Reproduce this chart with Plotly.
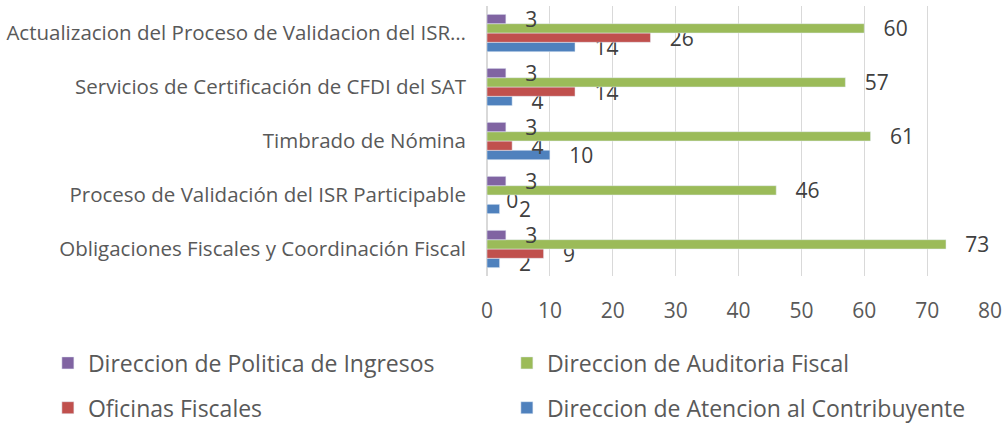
import plotly.graph_objects as go

categories = [
    "Obligaciones Fiscales y Coordinación Fiscal",
    "Proceso de Validación del ISR Participable",
    "Timbrado de Nómina",
    "Servicios de Certificación de CFDI del SAT",
    "Actualizacion del Proceso de Validacion del ISR…",
]
atencion = [2, 2, 10, 4, 14]
oficinas = [9, 0, 4, 14, 26]
auditoria = [73, 46, 61, 57, 60]
politica = [3, 3, 3, 3, 3]

series = [
    ("Direccion de Atencion al Contribuyente", atencion, "#4F81BD", "legend2"),
    ("Oficinas Fiscales", oficinas, "#C0504D", "legend2"),
    ("Direccion de Auditoria Fiscal", auditoria, "#9BBB59", "legend"),
    ("Direccion de Politica de Ingresos", politica, "#8064A2", "legend"),
]

FONT = "Open Sans"
FS = 20.5
fig = go.Figure()
for name, vals, color, lg in series:
    fig.add_trace(go.Bar(
        y=categories, x=vals, name=name, orientation="h",
        marker=dict(color=color),
        texttemplate="\u00a0\u00a0\u00a0%{x}", textposition="outside",
        constraintext="none",
        textfont=dict(family=FONT, size=21, color="#404040"),
        cliponaxis=False, legend=lg,
    ))

leg_common = dict(orientation="h", xanchor="left", yanchor="middle",
                  traceorder="reversed", entrywidth=414, entrywidthmode="pixels",
                  font=dict(family=FONT, size=23, color="#595959"),
                  bgcolor="rgba(0,0,0,0)", borderwidth=0)

fig.update_layout(
    width=1007, height=425,
    margin=dict(l=487, r=17, t=6, b=149, autoexpand=False),
    barmode="group", bargap=0.31, bargroupgap=0,
    plot_bgcolor="white", paper_bgcolor="white",
    font=dict(family=FONT, size=FS, color="#595959"),
    xaxis=dict(range=[0, 80], dtick=10, showgrid=True, gridcolor="#d9d9d9",
               gridwidth=1, zeroline=True, zerolinecolor="#d9d9d9",
               tickfont=dict(size=21, color="#595959"), ticks="",
               ticklabelstandoff=20),
    yaxis=dict(showgrid=False, ticks="", tickfont=dict(size=FS, color="#595959"),
               ticklabelstandoff=20),
    showlegend=True,
    legend=dict(x=-0.873, y=-0.322, **leg_common),
    legend2=dict(x=-0.873, y=-0.488, **leg_common),
)
fig.write_html("out.html", config={"displayModeBar": False},
               post_script="document.body.style.margin='0';")
